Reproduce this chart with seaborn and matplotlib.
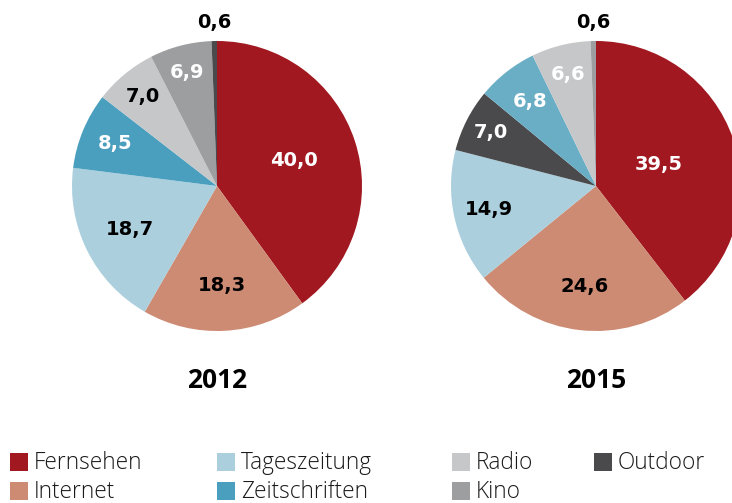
import matplotlib
matplotlib.use("Agg")
import matplotlib.pyplot as plt
from matplotlib.patches import Rectangle
import numpy as np
import seaborn as sns

# ---- data ----
years = ["2012", "2015"]
cats_2012 = ["Fernsehen", "Internet", "Tageszeitung", "Zeitschriften", "Radio", "Kino", "Outdoor"]
vals_2012 = [40.0, 18.3, 18.7, 8.5, 7.0, 6.9, 0.6]
cats_2015 = ["Fernsehen", "Internet", "Tageszeitung", "Outdoor", "Zeitschriften", "Radio", "Kino"]
vals_2015 = [39.5, 24.6, 14.9, 7.0, 6.8, 6.6, 0.6]
legend_order = ["Fernsehen", "Internet", "Tageszeitung", "Zeitschriften", "Radio", "Kino", "Outdoor"]

# ---- style ----
colors = {
    "Fernsehen": "#A11820",
    "Internet": "#CD8B74",
    "Tageszeitung": "#ABCFDD",
    "Zeitschriften": "#4A9FBF",
    "Radio": "#C6C7C9",
    "Kino": "#9D9EA0",
    "Outdoor": "#4A4A4C",
}
colors_2015 = dict(colors, Zeitschriften="#6AAEC6")
label_r_2012 = [0.56, 0.69, 0.67, 0.76, 0.80, 0.81, 1.13]
label_r_2015 = [0.46, 0.70, 0.76, 0.81, 0.74, 0.79, 1.13]
label_c_2012 = ["white", "black", "black", "white", "black", "white", "black"]
label_c_2015 = ["white", "black", "black", "white", "white", "white", "black"]
legend_cols_px = [10, 217, 452, 594]
legend_rows_px = [462, 491]

sns.set_theme(style="white")
plt.rcParams["font.family"] = ["Open Sans", "DejaVu Sans"]

W, H = 732, 503
fig = plt.figure(figsize=(W / 100, H / 100), dpi=100)

R = 145
centers = [(217, 186), (596, 186)]
specs = [
    (cats_2012, vals_2012, colors, label_r_2012, label_c_2012),
    (cats_2015, vals_2015, colors_2015, label_r_2015, label_c_2015),
]

for (cx, cy), year, (cats, vals, cmap, lr, lc) in zip(centers, years, specs):
    ax = fig.add_axes([(cx - R) / W, (H - cy - R) / H, 2 * R / W, 2 * R / H])
    wedges, _ = ax.pie(vals, colors=[cmap[c] for c in cats], startangle=90,
                       counterclock=False, radius=1,
                       wedgeprops=dict(linewidth=0))
    for w, v, r, c in zip(wedges, vals, lr, lc):
        mid = np.deg2rad((w.theta1 + w.theta2) / 2)
        ax.text(r * np.cos(mid), r * np.sin(mid), f"{v:.1f}".replace(".", ","),
                ha="center", va="center", color=c, fontsize=14,
                fontweight="bold", family=["DejaVu Sans"])
    ax.set_xlim(-1, 1)
    ax.set_ylim(-1, 1)
    ax.set_aspect("equal")
    ax.axis("off")
    fig.text(cx / W, 1 - 380 / H, year, ha="center", va="center",
             fontsize=19, fontweight="bold", color="black")

# legend, laid out in 4 columns x 2 rows (column-major)
sq = 18
for i, cat in enumerate(legend_order):
    col, row = divmod(i, 2)
    x0 = legend_cols_px[col]
    yc = legend_rows_px[row]
    fig.patches.append(Rectangle((x0 / W, 1 - (yc + sq / 2) / H), sq / W, sq / H,
                                 transform=fig.transFigure, facecolor=colors[cat],
                                 edgecolor="none"))
    fig.text((x0 + sq + 6) / W, 1 - (yc + 1) / H, cat, ha="left", va="center",
             fontsize=16.3, fontweight="light", color="#1a1a1a")

fig.savefig("out.png", dpi=100)
